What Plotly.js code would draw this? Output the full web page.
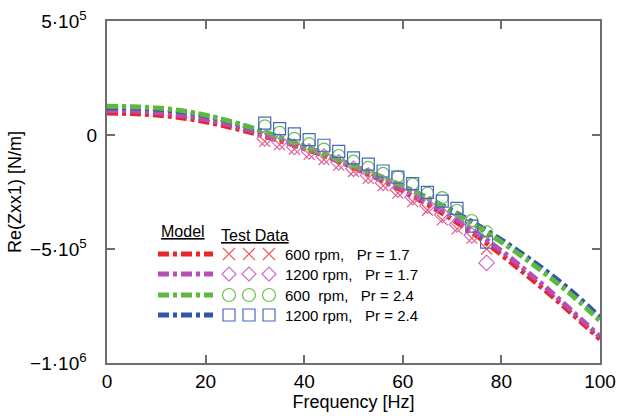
<!DOCTYPE html>
<html>
<head>
<meta charset="utf-8">
<script src="https://cdn.plot.ly/plotly-3.0.1.min.js"></script>
<style>html,body{margin:0;padding:0;background:#fff;}#chart{width:619px;height:416px;}</style>
</head>
<body>
<div id="chart"></div>
<script>
// ---- Data (N/m) ----
const modelFreq = [0,5,10,15,20,25,30,35,40,45,50,55,60,65,70,75,80,85,90,95,100];
const model600Pr17  = [96e3,94e3,88e3,76e3,58e3,34e3,6e3,-25e3,-60e3,-99e3,-143e3,-192e3,-245e3,-305e3,-370e3,-443e3,-525e3,-612e3,-702e3,-797e3,-895e3];
const model1200Pr17 = [108e3,106e3,99e3,87e3,68e3,44e3,14e3,-20e3,-57e3,-97e3,-140e3,-187e3,-238e3,-295e3,-358e3,-428e3,-508e3,-595e3,-687e3,-785e3,-885e3];
const model600Pr24  = [126e3,124e3,119e3,107e3,87e3,60e3,27e3,-10e3,-50e3,-92e3,-135e3,-178e3,-225e3,-278e3,-336e3,-400e3,-470e3,-545e3,-627e3,-716e3,-815e3];
const model1200Pr24 = [120e3,119e3,114e3,103e3,84e3,58e3,26e3,-10e3,-50e3,-92e3,-135e3,-179e3,-225e3,-276e3,-332e3,-393e3,-460e3,-533e3,-612e3,-700e3,-800e3];

const testFreq = [32,35,38,41,44,47,50,53,56,59,62,65,68,71,74,77];
const test600Pr17  = [-28e3,-42e3,-62e3,-85e3,-108e3,-132e3,-160e3,-190e3,-222e3,-255e3,-292e3,-330e3,-372e3,-412e3,-452e3,-500e3];
const test1200Pr17 = [-15e3,-30e3,-52e3,-72e3,-95e3,-120e3,-148e3,-178e3,-210e3,-240e3,-272e3,-310e3,-350e3,-392e3,-440e3,-561e3];
const test600Pr24  = [40e3,12e3,-15e3,-38e3,-62e3,-90e3,-115e3,-142e3,-168e3,-182e3,-215e3,-255e3,-275e3,-330e3,-375e3,-425e3];
const test1200Pr24 = [52e3,28e3,5e3,-20e3,-45e3,-72e3,-100e3,-128e3,-158e3,-185e3,-213e3,-252e3,-290e3,-322e3,-400e3,-470e3];

const seriesLabels = ["600\u00a0rpm,\u00a0\u00a0\u00a0Pr = 1.7", "1200\u00a0rpm,\u00a0\u00a0\u00a0Pr = 1.7", "600\u00a0\u00a0rpm,\u00a0\u00a0\u00a0Pr = 2.4", "1200\u00a0rpm,\u00a0\u00a0\u00a0Pr = 2.4"];
const yTickVals = [-1e6, -5e5, 0, 5e5];
const yTickText = ["\u22121\u00b710<sup>6</sup>\u00a0\u00a0", "\u22125\u00b710<sup>5</sup>\u00a0\u00a0", "0", "5\u00b710<sup>5</sup>\u00a0\u00a0"];
const xTickVals = [0,20,40,60,80,100];

// ---- Styles ----
const lineColors = ["#ea2428", "#b64eb6", "#5cb83e", "#3254aa"];
const markColors = ["#f05a5a", "#cc6acc", "#66c04a", "#4866c0"];
const symbols = ["x-thin-open", "diamond-open", "circle-open", "square-open"];
const dashPat = "11px,4px,4px,4px";

const models = [model600Pr17, model1200Pr17, model1200Pr24, model600Pr24];
const modelIdx = [0, 1, 3, 2];
const tests = [test600Pr17, test1200Pr17, test600Pr24, test1200Pr24];

const traces = [];
models.forEach((m, k) => {
  const i = modelIdx[k];
  traces.push({x: modelFreq, y: m, mode: "lines", type: "scatter",
    line: {color: lineColors[i], width: 5, dash: dashPat, shape: "spline"}, showlegend: false, hoverinfo: "skip"});
});
tests.forEach((t, i) => {
  traces.push({x: testFreq, y: t, mode: "markers", type: "scatter",
    marker: {symbol: symbols[i], size: i === 0 ? 11 : 12, color: markColors[i], line: {color: markColors[i], width: 1.2}},
    showlegend: false, hoverinfo: "skip"});
});

// ---- Legend drawn as layout decoration ----
const L = 107, R = 600, T = 21, B = 363;
const px = v => (v - L) / (R - L);
const py = v => (B - v) / (B - T);
const rows = [254, 274, 295, 315];
const shapes = [];
const annotations = [];
const font = "Liberation Sans, Arial, sans-serif";
annotations.push({xref: "paper", yref: "paper", x: px(183), y: py(231), text: "<u>Model</u>", showarrow: false, xanchor: "center", yanchor: "middle", font: {family: font, size: 16, color: "#000"}});
annotations.push({xref: "paper", yref: "paper", x: px(255), y: py(235), text: "<u>Test Data</u>", showarrow: false, xanchor: "center", yanchor: "middle", font: {family: font, size: 16, color: "#000"}});
rows.forEach((ry, i) => {
  shapes.push({type: "line", xref: "paper", yref: "paper", x0: px(158), x1: px(213), y0: py(ry), y1: py(ry),
    line: {color: lineColors[i], width: 5, dash: dashPat}});
  [229, 249, 269].forEach(mx => {
    const base = {xref: "paper", yref: "paper", xsizemode: "pixel", ysizemode: "pixel", xanchor: px(mx), yanchor: py(ry),
      line: {color: markColors[i], width: 1.2}};
    if (i === 0) shapes.push(Object.assign({type: "path", path: "M-6,-6L6,6M-6,6L6,-6"}, base));
    if (i === 1) shapes.push(Object.assign({type: "path", path: "M0,-7L7,0L0,7L-7,0Z"}, base));
    if (i === 2) shapes.push(Object.assign({type: "circle", x0: -6.5, x1: 6.5, y0: -6.5, y1: 6.5}, base));
    if (i === 3) shapes.push(Object.assign({type: "rect", x0: -6, x1: 6, y0: -6, y1: 6}, base));
  });
  annotations.push({xref: "paper", yref: "paper", x: px(283), y: py(ry), text: seriesLabels[i], showarrow: false,
    xanchor: "left", yanchor: "middle", font: {family: font, size: 15, color: "#000"}});
});

const axisCommon = {showline: true, linecolor: "#6e6e6e", linewidth: 2, mirror: "ticks", ticks: "inside",
  ticklen: 8, tickwidth: 2, tickcolor: "#6e6e6e", showgrid: false, zeroline: false,
  tickfont: {family: font, size: 19, color: "#000"}};

const layout = {
  width: 619, height: 416,
  margin: {l: L, r: 619 - R, t: T, b: 416 - B},
  paper_bgcolor: "#fff", plot_bgcolor: "#fff",
  font: {family: font},
  xaxis: Object.assign({}, axisCommon, {range: [0, 100], tickvals: xTickVals,
    title: {text: "Frequency [Hz]", font: {family: font, size: 18, color: "#000"}, standoff: 1}}),
  yaxis: Object.assign({}, axisCommon, {range: [-1e6, 5e5], tickvals: yTickVals, ticktext: yTickText, ticklabelstandoff: 4,
    title: {text: "Re(Zxx1) [N/m]", font: {family: font, size: 18, color: "#000"}, standoff: 4}}),
  shapes: shapes,
  annotations: annotations,
  showlegend: false
};

Plotly.newPlot("chart", traces, layout, {displayModeBar: false, staticPlot: true});
</script>
</body>
</html>
